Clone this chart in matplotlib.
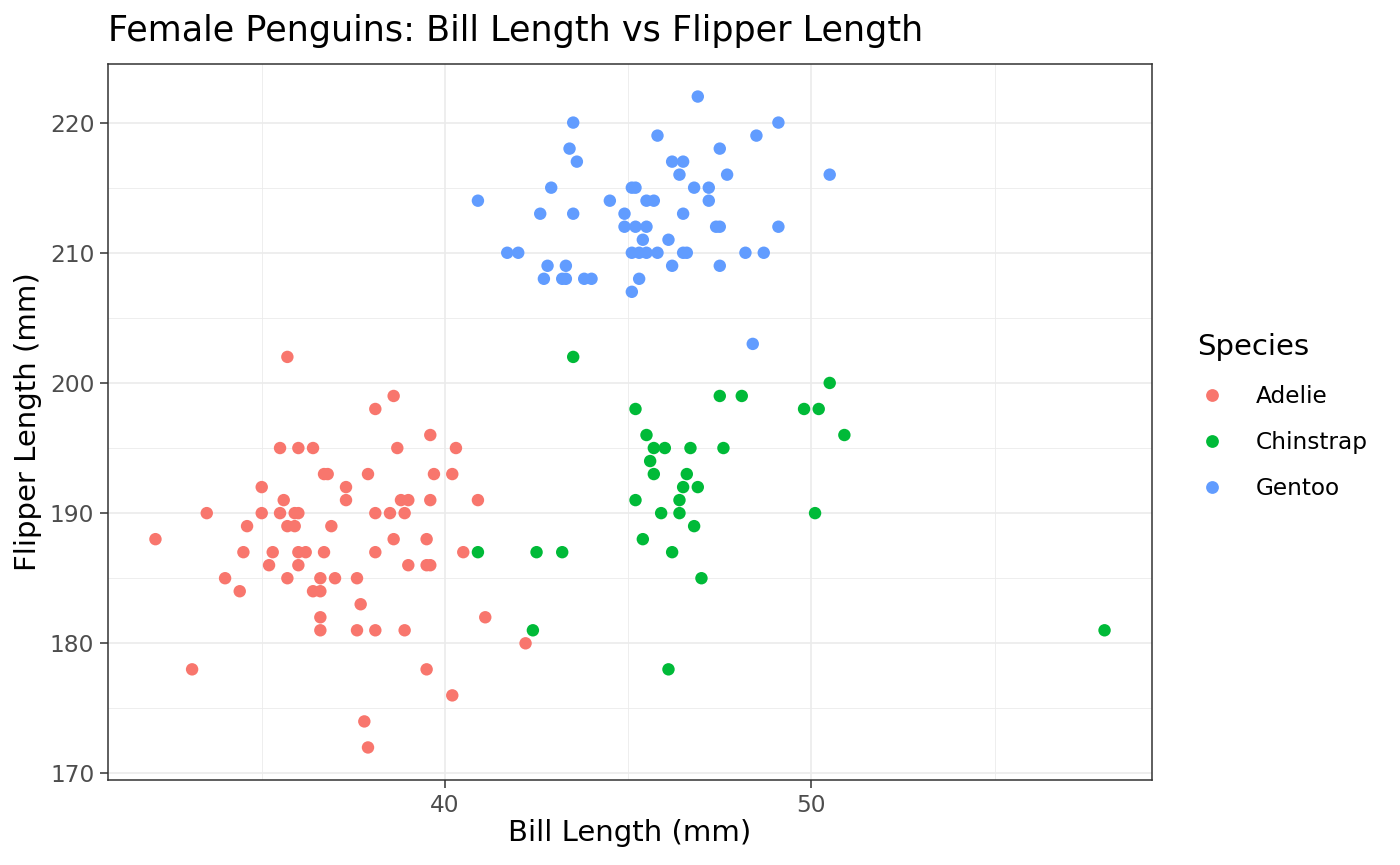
import matplotlib
matplotlib.use("Agg")
import matplotlib.pyplot as plt
from matplotlib.lines import Line2D
import numpy as np

# ---- data ----
species = ["Adelie", "Chinstrap", "Gentoo"]
colors = ["#F8766D", "#00BA38", "#619CFF"]

adelie_bill = [35.7, 38.6, 38.1, 39.6,
               35.5, 36.0, 36.4, 38.7, 40.3,
               36.7, 36.8, 37.9, 39.7, 40.2,
               35.0, 37.3,
               35.6, 37.3, 38.8, 39.0, 39.6, 40.9,
               33.5, 35.0, 35.5, 35.9, 36.0, 38.1, 38.5, 38.9,
               34.6, 35.7, 35.9, 36.9,
               32.1, 38.6, 39.5,
               34.5, 35.3, 36.0, 36.2, 36.7, 38.1, 40.5,
               35.2, 36.0, 39.0, 39.5, 39.6,
               34.0, 35.7, 36.6, 37.0, 37.6,
               34.4, 36.4, 36.6,
               37.7,
               36.6, 41.1,
               36.6, 37.6, 38.1, 38.9,
               42.2,
               33.1, 39.5,
               40.2,
               37.8,
               37.9]
adelie_flipper = [202, 199, 198, 196,
                  195, 195, 195, 195, 195,
                  193, 193, 193, 193, 193,
                  192, 192,
                  191, 191, 191, 191, 191, 191,
                  190, 190, 190, 190, 190, 190, 190, 190,
                  189, 189, 189, 189,
                  188, 188, 188,
                  187, 187, 187, 187, 187, 187, 187,
                  186, 186, 186, 186, 186,
                  185, 185, 185, 185, 185,
                  184, 184, 184,
                  183,
                  182, 182,
                  181, 181, 181, 181,
                  180,
                  178, 178,
                  176,
                  174,
                  172]

chinstrap_bill = [43.5, 50.5, 47.5, 48.1, 45.2, 49.8, 50.2, 45.5, 50.9,
                  45.7, 46.0, 46.7, 47.6, 45.6, 45.7, 46.6, 46.5, 46.9,
                  45.2, 46.4, 45.9, 46.4, 50.1, 46.8, 45.4,
                  40.9, 42.5, 43.2, 46.2, 47.0, 42.4, 58.0, 46.1]
chinstrap_flipper = [202, 200, 199, 199, 198, 198, 198, 196, 196,
                     195, 195, 195, 195, 194, 193, 193, 192, 192,
                     191, 191, 190, 190, 190, 189, 188,
                     187, 187, 187, 187, 185, 181, 181, 178]

gentoo_bill = [46.9, 43.5, 49.1, 45.8, 48.5, 43.4, 47.5, 43.6, 46.2, 46.5,
               46.4, 47.7, 50.5,
               42.9, 45.1, 45.2, 46.8, 47.2,
               40.9, 44.5, 45.5, 45.7, 47.2,
               42.6, 43.5, 44.9, 46.5,
               44.9, 45.2, 45.5, 47.4, 47.5, 49.1,
               45.4, 46.1,
               41.7, 42.0, 45.1, 45.3, 45.5, 45.8, 46.5, 46.6, 48.2, 48.7,
               42.8, 43.3, 46.2, 47.5,
               42.7, 43.2, 43.3, 43.8, 44.0, 45.3,
               45.1, 48.4]
gentoo_flipper = [222, 220, 220, 219, 219, 218, 218, 217, 217, 217,
                  216, 216, 216,
                  215, 215, 215, 215, 215,
                  214, 214, 214, 214, 214,
                  213, 213, 213, 213,
                  212, 212, 212, 212, 212, 212,
                  211, 211,
                  210, 210, 210, 210, 210, 210, 210, 210, 210, 210,
                  209, 209, 209, 209,
                  208, 208, 208, 208, 208, 208,
                  207, 203]

x_major = [40, 50]
x_minor = [35, 45, 55]
y_major = [170, 180, 190, 200, 210, 220]
y_minor = [175, 185, 195, 205, 215]

title = "Female Penguins: Bill Length vs Flipper Length"
xlabel = "Bill Length (mm)"
ylabel = "Flipper Length (mm)"
legend_title = "Species"

# ---- figure ----
W, H = 1400, 865
k = 0.955  # text scale
fig = plt.figure(figsize=(7, 4.325), dpi=200)
ax = fig.add_axes([108 / W, 1 - 780 / H, (1152 - 108) / W, (780 - 64) / H])

series = [(adelie_bill, adelie_flipper), (chinstrap_bill, chinstrap_flipper),
          (gentoo_bill, gentoo_flipper)]
for (xs, ys), c in zip(series, colors):
    ax.scatter(xs, ys, s=20, color=c, edgecolors="none", zorder=3)

allx = adelie_bill + chinstrap_bill + gentoo_bill
ally = adelie_flipper + chinstrap_flipper + gentoo_flipper
xr = max(allx) - min(allx)
yr = max(ally) - min(ally)
ax.set_xlim(min(allx) - 0.05 * xr, max(allx) + 0.05 * xr)
ax.set_ylim(min(ally) - 0.05 * yr, max(ally) + 0.05 * yr)

ax.set_xticks(x_major)
ax.set_xticks(x_minor, minor=True)
ax.set_yticks(y_major)
ax.set_yticks(y_minor, minor=True)
ax.grid(True, which="major", color="#EBEBEB", linewidth=0.6, zorder=0)
ax.grid(True, which="minor", color="#EBEBEB", linewidth=0.3, zorder=0)
ax.set_axisbelow(True)
ax.tick_params(which="major", length=2.75, width=0.55, color="#333333",
               labelsize=8.8 * k, labelcolor="#4D4D4D", pad=2.2)
ax.tick_params(which="minor", length=0)
for sp in ax.spines.values():
    sp.set_color("#333333")
    sp.set_linewidth(0.55)

fig.text(108 / W, 1 - 41 / H, title, fontsize=13.2 * k, ha="left",
         va="baseline", color="black")
fig.text(630 / W, 1 - 833 / H, xlabel, fontsize=11 * k, ha="center",
         va="center")
fig.text(28 / W, 1 - 422 / H, ylabel, fontsize=11 * k, ha="center",
         va="center", rotation=90)

handles = [Line2D([0], [0], marker="o", linestyle="none", markersize=4.6,
                  markerfacecolor=c, markeredgecolor="none") for c in colors]
leg = fig.legend(handles, species, title=legend_title, loc="upper left",
                 bbox_to_anchor=(1188 / W, 1 - 324 / H), frameon=False,
                 fontsize=8.8 * k, title_fontsize=11 * k, labelspacing=1.0,
                 handletextpad=1.25, handlelength=1.25, borderaxespad=0)
leg._legend_box.align = "left"

fig.savefig("out.png", dpi=200, facecolor="white")
